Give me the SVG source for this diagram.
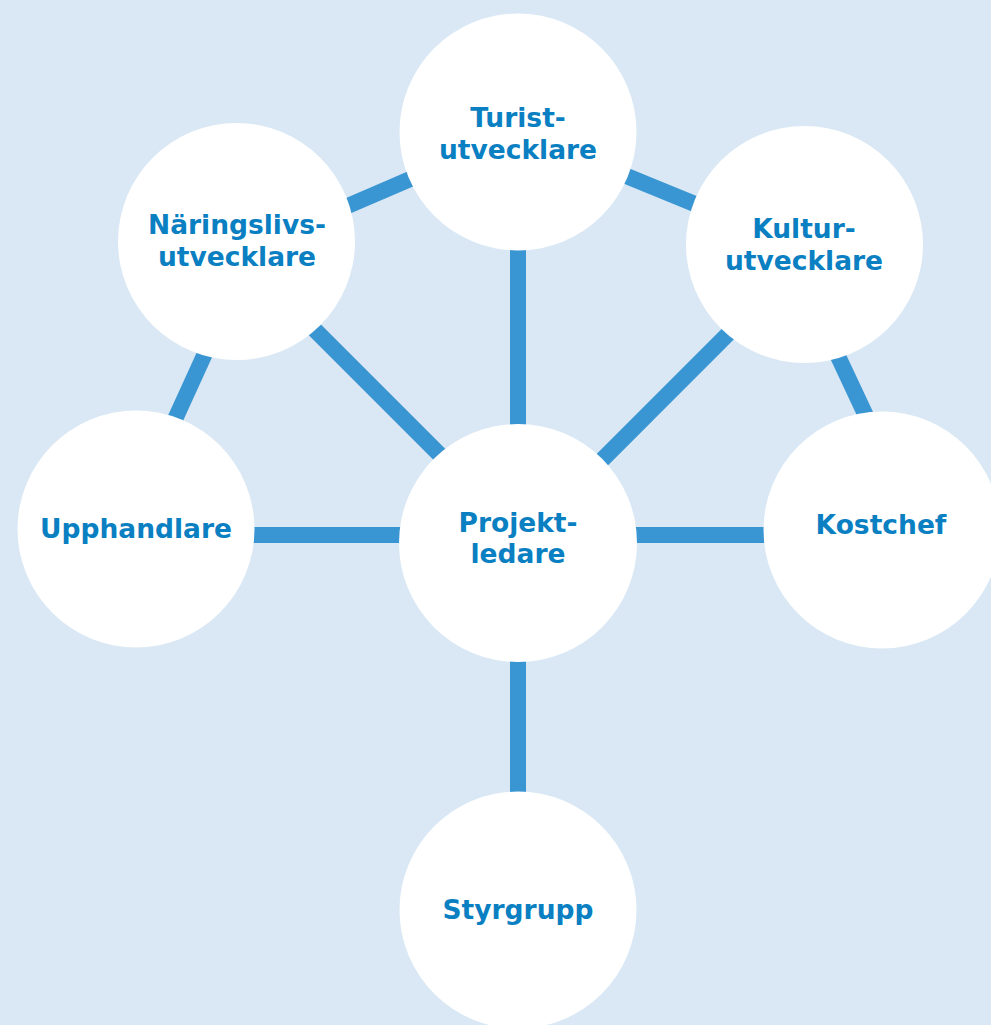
<svg xmlns="http://www.w3.org/2000/svg" width="991" height="1025" viewBox="0 0 991 1025">
<style>
.bg{fill:#d9e8f4}
.c{fill:#ffffff}
.l{stroke:#3a96d3;stroke-width:16;fill:none}
.t{font-family:"DejaVu Sans",Verdana,sans-serif;font-weight:bold;font-size:26.5px;fill:#0a7fc2;text-anchor:middle}
</style>
<rect class="bg" x="0" y="0" width="991" height="1025"/>
<g id="connectors">
<line class="l" x1="300" y1="226.5" x2="460" y2="157.7"/>
<line class="l" x1="580" y1="157" x2="740" y2="222.5"/>
<line class="l" x1="518" y1="200" x2="518" y2="480"/>
<line class="l" x1="280" y1="295" x2="470" y2="485"/>
<line class="l" x1="760" y1="302" x2="570" y2="492"/>
<line class="l" x1="220.3" y1="320" x2="161" y2="450"/>
<line class="l" x1="821" y1="320" x2="882" y2="450"/>
<line class="l" x1="200" y1="535" x2="820" y2="535"/>
<line class="l" x1="518" y1="600" x2="518" y2="850"/>
</g>
<g id="turist"><circle class="c" cx="518" cy="132" r="118.5"/><text class="t" x="518" y="127">Turist-</text><text class="t" x="518" y="159">utvecklare</text></g>
<g id="naringslivs"><circle class="c" cx="236.5" cy="241.5" r="118.5"/><text class="t" x="237" y="234">Näringslivs-</text><text class="t" x="237" y="266">utvecklare</text></g>
<g id="kultur"><circle class="c" cx="804.5" cy="244.5" r="118.5"/><text class="t" x="804" y="238">Kultur-</text><text class="t" x="804" y="270">utvecklare</text></g>
<g id="upphandlare"><circle class="c" cx="136" cy="529" r="118.5"/><text class="t" x="136" y="538">Upphandlare</text></g>
<g id="projektledare"><circle class="c" cx="518" cy="543" r="119"/><text class="t" x="518" y="532">Projekt-</text><text class="t" x="518" y="563">ledare</text></g>
<g id="kostchef"><circle class="c" cx="882" cy="530" r="118.5"/><text class="t" x="881" y="534">Kostchef</text></g>
<g id="styrgrupp"><circle class="c" cx="518" cy="910" r="118.5"/><text class="t" x="518" y="919">Styrgrupp</text></g>
</svg>
